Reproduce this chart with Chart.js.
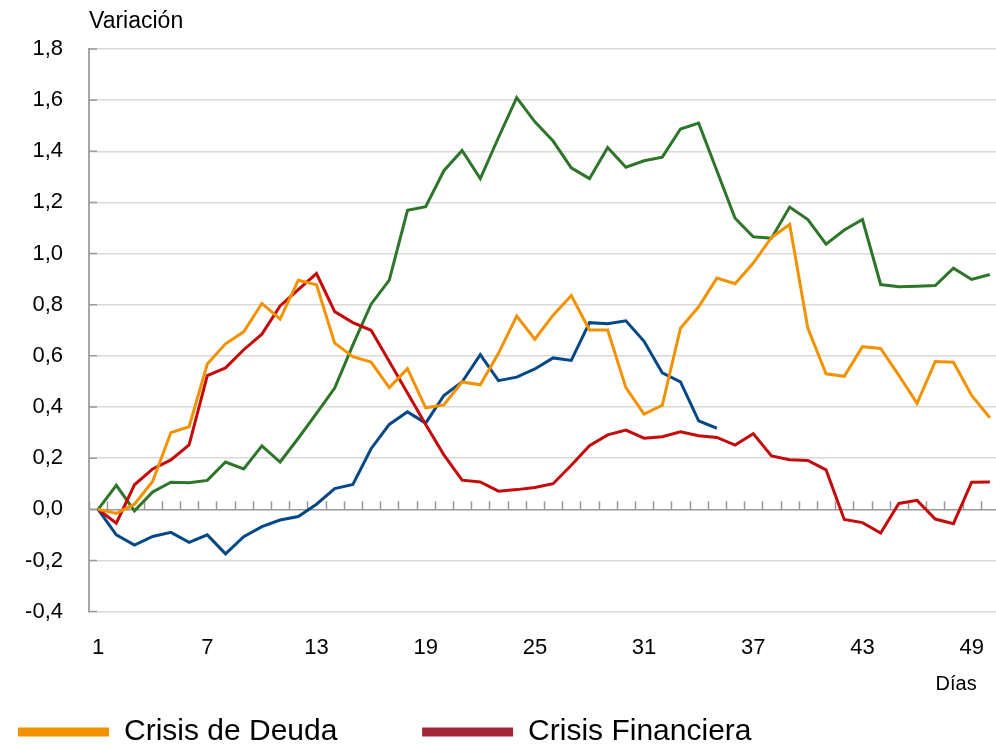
<!DOCTYPE html>
<html>
<head>
<meta charset="utf-8">
<script src="https://cdn.jsdelivr.net/npm/chart.js@4"></script>
<style>
  html, body { margin: 0; padding: 0; background: #fff; overflow: hidden; }
  #wrap { width: 1013px; height: 745px; position: relative; }
</style>
</head>
<body>
<div id="wrap"><canvas id="c"></canvas></div>
<script>
// ---- data ----
const days = ['1','2','3','4','5','6','7','8','9','10','11','12','13','14','15','16','17','18','19','20',
  '21','22','23','24','25','26','27','28','29','30','31','32','33','34','35','36','37','38','39','40',
  '41','42','43','44','45','46','47','48','49','50'];
const xTickLabels = ['1','7','13','19','25','31','37','43','49'];
const yMin = -0.4, yMax = 1.8, yStep = 0.2;

const seriesNames = ['Crisis de Deuda', 'Crisis Financiera', 'Serie verde', 'Serie azul'];
const deuda = [0, -0.016, 0.02, 0.11, 0.30, 0.323, 0.568, 0.647, 0.694, 0.805,
  0.744, 0.896, 0.878, 0.650, 0.597, 0.576, 0.476, 0.550, 0.397, 0.408,
  0.498, 0.487, 0.61, 0.756, 0.665, 0.759, 0.836, 0.701, 0.701, 0.476,
  0.372, 0.407, 0.708, 0.792, 0.904, 0.882, 0.963, 1.063, 1.114, 0.708,
  0.530, 0.52, 0.636, 0.629, 0.524, 0.414, 0.578, 0.575, 0.445, 0.358];
const financiera = [0, -0.054, 0.096, 0.158, 0.193, 0.252, 0.523, 0.553, 0.624, 0.685,
  0.795, 0.859, 0.922, 0.773, 0.730, 0.700, 0.578, 0.455, 0.332, 0.213,
  0.114, 0.107, 0.071, 0.077, 0.085, 0.10, 0.172, 0.249, 0.291, 0.31,
  0.278, 0.284, 0.303, 0.288, 0.281, 0.251, 0.296, 0.209, 0.194, 0.191,
  0.154, -0.04, -0.052, -0.093, 0.023, 0.035, -0.038, -0.056, 0.106, 0.107];
const verde = [0, 0.094, -0.006, 0.068, 0.106, 0.104, 0.113, 0.185, 0.158, 0.248,
  0.185, 0.278, 0.375, 0.474, 0.643, 0.802, 0.896, 1.169, 1.183, 1.324,
  1.403, 1.293, 1.454, 1.61, 1.515, 1.44, 1.335, 1.293, 1.415, 1.338,
  1.363, 1.377, 1.487, 1.51, 1.324, 1.138, 1.066, 1.06, 1.182, 1.133,
  1.037, 1.092, 1.133, 0.879, 0.870, 0.872, 0.875, 0.943, 0.899, 0.918];
const azul = [0, -0.10, -0.14, -0.106, -0.09, -0.129, -0.10, -0.174, -0.107, -0.068,
  -0.042, -0.028, 0.02, 0.081, 0.097, 0.237, 0.332, 0.381, 0.337, 0.445,
  0.498, 0.605, 0.503, 0.517, 0.549, 0.592, 0.582, 0.730, 0.726, 0.737,
  0.657, 0.534, 0.498, 0.346, 0.317];

// ---- styles ----
const lineColors = ['#F39200', '#C40A0A', '#2D7528', '#054888'];
const legendColors = ['#F39200', '#A3263A'];
const NB = '\u00A0';

Chart.defaults.font.family = '"Liberation Sans", Arial, Helvetica, sans-serif';
Chart.defaults.color = '#000';

const axisMarks = {
  id: 'axisMarks',
  beforeDatasetsDraw(chart) {
    const {ctx, scales: {x, y}} = chart;
    const y0 = y.getPixelForValue(0);
    ctx.save();
    ctx.strokeStyle = '#9a9a9a';
    ctx.lineWidth = 1.5;
    ctx.beginPath();
    for (let i = 0; i <= days.length; i++) {
      const px = Math.round(x.getPixelForValue(i - 0.5)) + 0.5;
      ctx.moveTo(px, y0);
      ctx.lineTo(px, y0 - 8);
    }
    y.ticks.forEach(t => {
      const py = y.getPixelForValue(t.value);
      ctx.moveTo(x.left, py);
      ctx.lineTo(x.left + 8, py);
    });
    ctx.stroke();
    ctx.restore();
  }
};

const seriesData = [deuda, financiera, verde, azul];
const datasets = seriesData.map((d, i) => ({
  label: seriesNames[i],
  data: d,
  borderColor: lineColors[i],
  backgroundColor: lineColors[i],
  borderWidth: 3,
  pointRadius: 0,
  pointHoverRadius: 0,
  tension: 0,
  fill: false
}));

new Chart(document.getElementById('c'), {
  type: 'line',
  data: { labels: days, datasets },
  plugins: [axisMarks],
  options: {
    responsive: true,
    maintainAspectRatio: false,
    animation: false,
    events: [],
    layout: { padding: 0 },
    scales: {
      x: {
        type: 'category',
        offset: true,
        grid: { display: false, drawTicks: false },
        border: { display: false },
        ticks: {
          autoSkip: false,
          maxRotation: 0,
          padding: 23,
          font: { size: 22 },
          color: '#000',
          callback(value, index) {
            const lab = this.getLabelForValue(value);
            return xTickLabels.includes(lab) ? lab : '';
          }
        },
        title: {
          display: true,
          text: 'Días' + NB + NB + NB + NB,
          align: 'end',
          font: { size: 20 },
          color: '#000',
          padding: { top: -12, bottom: 3 }
        }
      },
      y: {
        min: yMin,
        max: yMax,
        afterFit(scale) { scale.width = 89; },
        grid: {
          drawTicks: false,
          color: ctx => (ctx.tick && Math.abs(ctx.tick.value) < 1e-9) ? '#9a9a9a' : '#d9d9d9',
          lineWidth: ctx => (ctx.tick && Math.abs(ctx.tick.value) < 1e-9) ? 1.6 : 1.4
        },
        border: { display: true, color: '#a6a6a6', width: 2 },
        ticks: {
          stepSize: yStep,
          padding: 26,
          font: { size: 22 },
          color: '#000',
          callback: v => (Math.abs(v) < 1e-9 ? 0 : v).toFixed(1).replace('.', ',')
        }
      }
    },
    plugins: {
      tooltip: { enabled: false },
      title: {
        display: true,
        text: 'Variación',
        align: 'start',
        fullSize: false,
        color: '#000',
        font: { size: 23, weight: 'normal' },
        padding: { top: 8, bottom: 13.4 }
      },
      legend: {
        display: true,
        position: 'bottom',
        align: 'start',
        maxHeight: 46,
        labels: {
          boxWidth: 91,
          boxHeight: 9,
          padding: 18,
          color: '#000',
          font: { size: 30 },
          filter: item => item.datasetIndex < 2,
          generateLabels(chart) {
            const items = Chart.defaults.plugins.legend.labels.generateLabels(chart);
            return items.map((it, i) => i < 2 ? Object.assign({}, it, {
              fillStyle: legendColors[i],
              strokeStyle: legendColors[i],
              lineWidth: 0,
              text: i === 0 ? it.text + NB.repeat(8) : it.text
            }) : it);
          }
        }
      }
    }
  }
});
</script>
</body>
</html>
